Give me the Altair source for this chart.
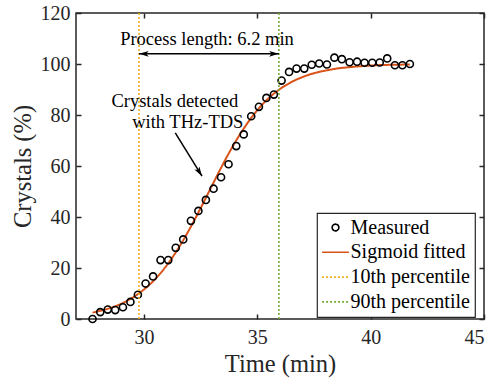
import altair as alt
import pandas as pd

# ---------------- data ----------------
time_min = [27.73, 28.07, 28.40, 28.73, 29.07, 29.40, 29.73, 30.07, 30.40, 30.73,
            31.07, 31.40, 31.73, 32.07, 32.40, 32.73, 33.07, 33.40, 33.73, 34.07,
            34.40, 34.73, 35.07, 35.40, 35.73, 36.07, 36.40, 36.73, 37.07, 37.40,
            37.73, 38.07, 38.40, 38.73, 39.07, 39.40, 39.73, 40.07, 40.40, 40.73,
            41.07, 41.40, 41.73]
crystals_pct = [0.0, 2.7, 3.7, 3.5, 4.6, 6.7, 9.5, 13.9, 16.7, 23.1,
                23.1, 27.9, 31.2, 38.5, 42.4, 46.7, 51.1, 55.6, 60.7, 67.8,
                72.4, 79.5, 83.2, 86.7, 88.0, 93.5, 96.9, 98.2, 98.2, 99.7,
                100.2, 99.8, 102.5, 101.9, 100.7, 100.9, 100.5, 100.5, 100.6, 102.2,
                99.5, 99.5, 100.0]

fit_time = [27.73, 28.0, 28.5, 29.0, 29.5, 30.0, 30.5, 31.0, 31.5, 32.0, 32.5,
            33.0, 33.5, 34.0, 34.5, 35.0, 35.5, 36.0, 36.5, 37.0, 37.5, 38.0,
            38.5, 39.0, 39.5, 40.0, 40.5, 41.0, 41.73]
fit_pct = [2.5, 3.1, 4.3, 6.0, 8.4, 11.6, 15.7, 21.0, 27.5, 35.1, 43.5,
           52.3, 61.0, 69.0, 76.0, 81.9, 86.6, 90.2, 92.9, 94.9, 96.4, 97.4,
           98.2, 98.7, 99.1, 99.4, 99.6, 99.7, 99.8]

percentile_time = [29.78, 35.95]
percentile_names = ["10th percentile", "90th percentile"]

series_names = ["Measured", "Sigmoid fitted", "10th percentile", "90th percentile"]
series_colors = ["#000000", "#D95319", "#EDB120", "#77AC30"]

x_ticks = [30, 35, 40, 45]
y_ticks = [0, 20, 40, 60, 80, 100, 120]

span_time = [29.78, 35.95]
span_level = [104.0, 104.0]
span_label = "Process length: 6.2 min"
span_label_pos = [32.78, 107.6]

note_lines = ["Crystals detected", "with THz-TDS"]
note_time = [31.36, 31.93]
note_level = [83.2, 75.0]
pointer_time = [31.38, 32.56]
pointer_level = [73.0, 56.0]

# ---------------- frames ----------------
measured = pd.DataFrame({"t": time_min, "c": crystals_pct, "series": "Measured"})
fitted = pd.DataFrame({"t": fit_time, "c": fit_pct, "series": "Sigmoid fitted"})
pct = pd.DataFrame({"t": percentile_time, "series": percentile_names})
span = pd.DataFrame({"t": span_time, "c": span_level})
span_txt = pd.DataFrame({"t": [span_label_pos[0]], "c": [span_label_pos[1]], "txt": [span_label]})
notes = pd.DataFrame({"t": note_time, "c": note_level, "txt": note_lines})
pointer = pd.DataFrame({"t": pointer_time, "c": pointer_level})

W, H = 408, 306
FONT = "Liberation Serif"
LINE_SYM = "M-4.0,0L4.0,0"
HEAD = "M0,0L-1,-0.3L-0.75,0L-1,0.3Z"

xs = alt.Scale(domain=[27, 45], nice=False, zero=False)
ys = alt.Scale(domain=[0, 120], nice=False, zero=False)
color_s = alt.Scale(domain=series_names, range=series_colors)
shape_s = alt.Scale(domain=series_names, range=["circle", LINE_SYM, LINE_SYM, LINE_SYM])
dash_s = alt.Scale(domain=series_names, range=[[1, 0], [1, 0], [2, 2], [2, 2]])

lab_x = alt.Axis(orient="bottom", values=x_ticks, title="Time (min)", tickSize=0,
                 labelPadding=8, titlePadding=5)
lab_y = alt.Axis(orient="left", values=y_ticks, title="Crystals (%)", tickSize=0,
                 labelPadding=6, titlePadding=5)
tick_x_bottom = alt.Axis(orient="top", offset=-H, values=x_ticks, labels=False, title=None, tickSize=5)
tick_x_top = alt.Axis(orient="bottom", offset=-H, values=x_ticks, labels=False, title=None, tickSize=5)
tick_y_left = alt.Axis(orient="right", offset=-W, values=y_ticks, labels=False, title=None, tickSize=5)
tick_y_right = alt.Axis(orient="left", offset=-W, values=y_ticks, labels=False, title=None, tickSize=5)

points = alt.Chart(measured).mark_point(filled=False, size=50, strokeWidth=1.6, opacity=1).encode(
    x=alt.X("t:Q", scale=xs, axis=lab_x),
    y=alt.Y("c:Q", scale=ys, axis=lab_y),
    color=alt.Color("series:N", scale=color_s, title=None),
    shape=alt.Shape("series:N", scale=shape_s, title=None),
)

fit_line = alt.Chart(fitted).mark_line(strokeWidth=2, interpolate="monotone").encode(
    x=alt.X("t:Q", scale=xs, axis=tick_x_bottom),
    y=alt.Y("c:Q", scale=ys, axis=tick_y_left),
    color=alt.Color("series:N", scale=color_s, title=None),
    strokeDash=alt.StrokeDash("series:N", scale=dash_s, title=None),
)

rules = alt.Chart(pct).mark_rule(strokeWidth=1.6).encode(
    x=alt.X("t:Q", scale=xs, axis=tick_x_top),
    color=alt.Color("series:N", scale=color_s, title=None),
    strokeDash=alt.StrokeDash("series:N", scale=dash_s, title=None),
)

span_line = alt.Chart(span).mark_line(color="black", strokeWidth=1.5).encode(
    x=alt.X("t:Q", scale=xs, axis=None),
    y=alt.Y("c:Q", scale=ys, axis=tick_y_right),
)
span_head_r = alt.Chart(span.iloc[[1]]).mark_point(shape=HEAD, size=380, filled=True, color="black",
                                                   opacity=1, angle=0).encode(
    x=alt.X("t:Q", scale=xs, axis=None), y=alt.Y("c:Q", scale=ys, axis=None))
span_head_l = alt.Chart(span.iloc[[0]]).mark_point(shape=HEAD, size=380, filled=True, color="black",
                                                   opacity=1, angle=180).encode(
    x=alt.X("t:Q", scale=xs, axis=None), y=alt.Y("c:Q", scale=ys, axis=None))

span_text = alt.Chart(span_txt).mark_text(font=FONT, fontSize=18.5, color="black",
                                          align="center", baseline="alphabetic").encode(
    x=alt.X("t:Q", scale=xs, axis=None), y=alt.Y("c:Q", scale=ys, axis=None), text="txt:N")

note_text = alt.Chart(notes).mark_text(font=FONT, fontSize=18.5, color="black",
                                       align="center", baseline="alphabetic").encode(
    x=alt.X("t:Q", scale=xs, axis=None), y=alt.Y("c:Q", scale=ys, axis=None), text="txt:N")

pointer_line = alt.Chart(pointer).mark_line(color="black", strokeWidth=1.5).encode(
    x=alt.X("t:Q", scale=xs, axis=None), y=alt.Y("c:Q", scale=ys, axis=None))
pointer_head = alt.Chart(pointer.iloc[[1]]).mark_point(shape=HEAD, size=380, filled=True, color="black",
                                                       opacity=1, angle=58).encode(
    x=alt.X("t:Q", scale=xs, axis=None), y=alt.Y("c:Q", scale=ys, axis=None))

chart = alt.layer(
    fit_line, points, rules, span_line, span_head_r, span_head_l,
    span_text, note_text, pointer_line, pointer_head,
).resolve_axis(x="independent", y="independent").properties(
    width=W, height=H,
    autosize=alt.AutoSizeParams(type="none"),
    padding={"left": 76, "top": 13, "right": 11, "bottom": 64},
    background="white",
).configure_view(
    stroke="#262626", strokeWidth=1.5,
).configure_axis(
    grid=False, domain=False,
    labelFont=FONT, labelFontSize=20, labelColor="#262626",
    titleFont=FONT, titleFontSize=24.5, titleFontWeight="normal", titleColor="#262626",
    tickColor="#262626", tickWidth=1.5,
).configure_legend(
    orient="none", legendX=241, legendY=200,
    strokeColor="#262626", strokeWidth=1.2, fillColor="white",
    padding=4.5, cornerRadius=0,
    labelFont=FONT, labelFontSize=20, labelColor="black",
    symbolSize=45, symbolStrokeWidth=1.6, symbolOffset=4, labelOffset=5,
    rowPadding=4.8, symbolFillColor="transparent",
)

chart.save("out.html", embed_options={"renderer": "svg", "actions": False})
